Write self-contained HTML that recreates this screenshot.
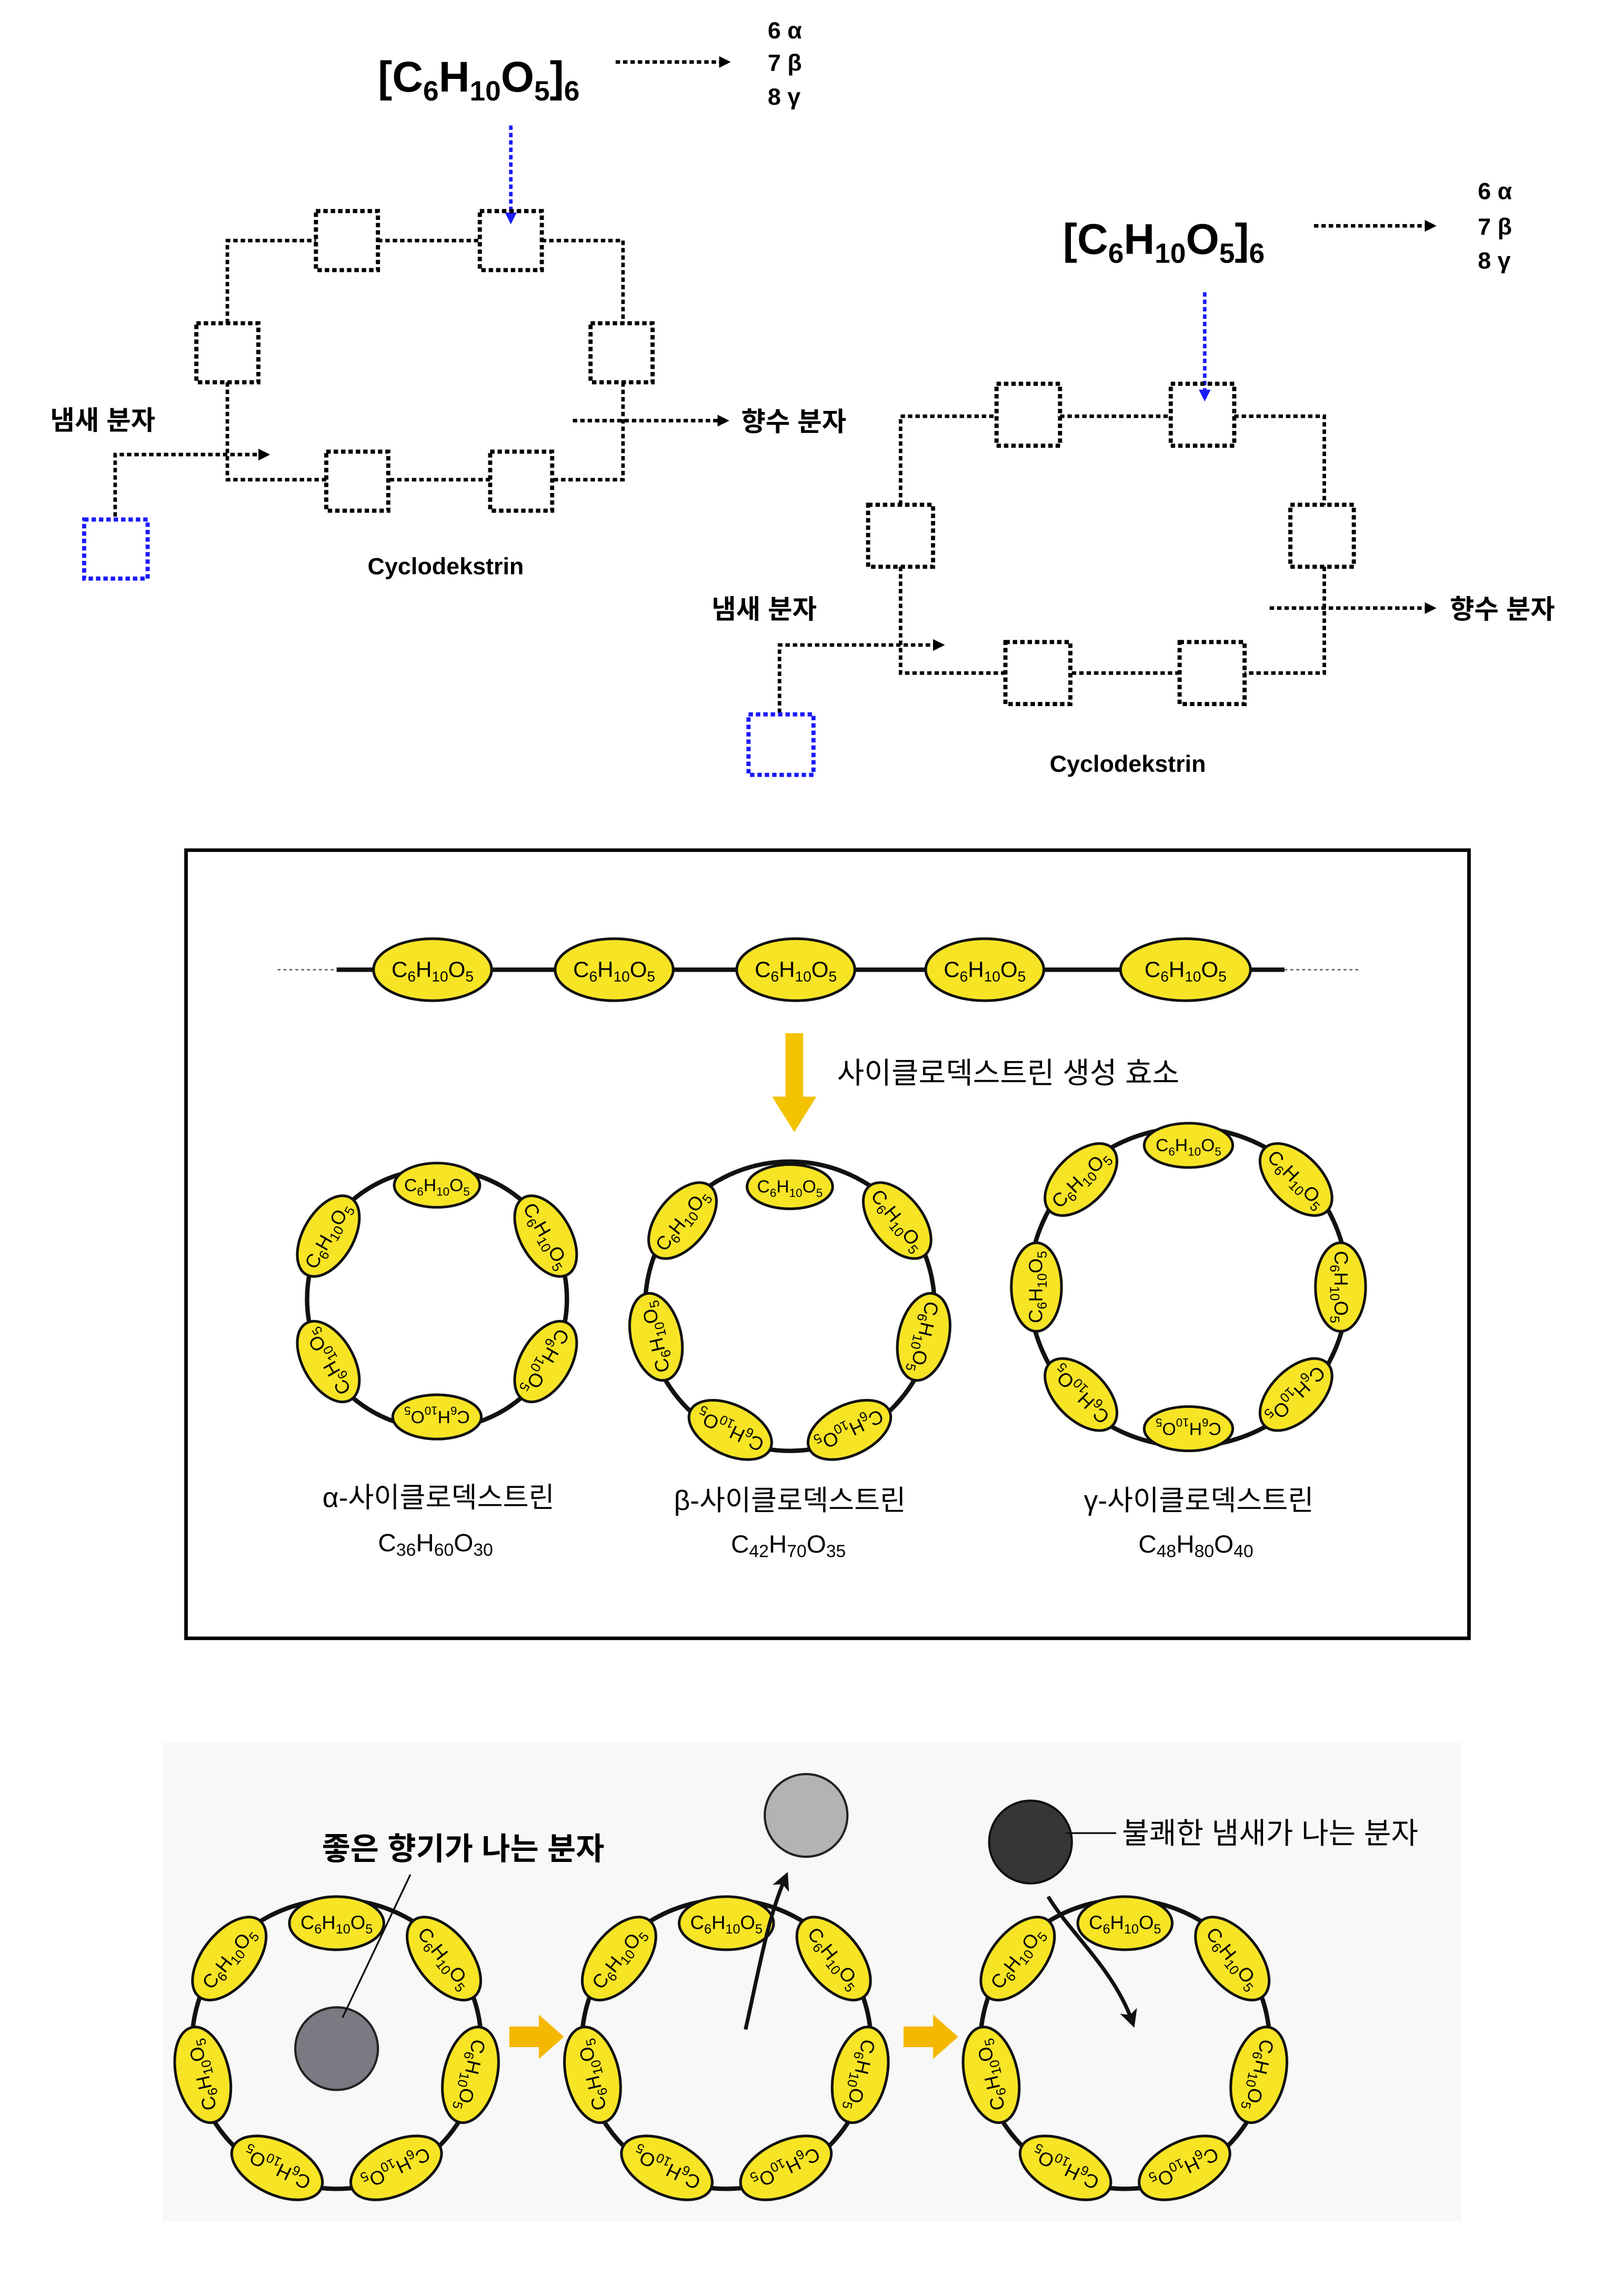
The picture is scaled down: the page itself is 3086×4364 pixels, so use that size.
<!DOCTYPE html>
<html><head><meta charset="utf-8"><style>
html,body{margin:0;padding:0;background:#fff}
svg{display:block}
text{font-family:"Liberation Sans","Noto Sans CJK KR",sans-serif}
.d{fill:none;stroke:#000;stroke-width:2.4;stroke-dasharray:3 2}
.bx{fill:none;stroke:#000;stroke-width:2.8;stroke-dasharray:3 2}
.bb{fill:none;stroke:#1a1aff;stroke-width:2.8;stroke-dasharray:3 2}
.y ellipse{fill:#f7e425;stroke:#111;stroke-width:1.8}
.y text{font-size:14px;text-anchor:middle}
.ring{fill:none;stroke:#111;stroke-width:3}
.b{font-weight:bold}
</style></head><body>
<svg width="3086" height="4364" viewBox="0 0 1100 1555.6" preserveAspectRatio="none" xmlns="http://www.w3.org/2000/svg">
<defs>
<marker id="ah" markerWidth="8" markerHeight="8" refX="6" refY="4" orient="auto" markerUnits="userSpaceOnUse"><path d="M0,0 L8,4 L0,8 z" fill="#000"/></marker>
<marker id="ab" markerWidth="8" markerHeight="8" refX="6" refY="4" orient="auto" markerUnits="userSpaceOnUse"><path d="M0,0 L8,4 L0,8 z" fill="#1a1aff"/></marker>
<marker id="ak" markerWidth="12" markerHeight="12" refX="8" refY="6" orient="auto" markerUnits="userSpaceOnUse"><path d="M0,0 L12,6 L0,12 L3,6 z" fill="#111"/></marker>
</defs>

<!-- Diagram 1 -->
<text x="256" y="62" font-size="29" class="b">[C<tspan dy="6" font-size="19">6</tspan><tspan dy="-6">H</tspan><tspan dy="6" font-size="19">10</tspan><tspan dy="-6">O</tspan><tspan dy="6" font-size="19">5</tspan><tspan dy="-6">]</tspan><tspan dy="6" font-size="19">6</tspan></text>
<line x1="417" y1="42" x2="493" y2="42" class="d" marker-end="url(#ah)"/>
<text x="520" y="26" font-size="16" class="b">6 α</text>
<text x="520" y="48" font-size="16" class="b">7 β</text>
<text x="520" y="71" font-size="16" class="b">8 γ</text>
<line x1="346" y1="85" x2="346" y2="150" stroke="#1a1aff" stroke-width="2.4" stroke-dasharray="3 2" marker-end="url(#ab)"/>
<rect x="214" y="143" width="42" height="40" class="bx"/>
<rect x="325" y="143" width="42" height="40" class="bx"/>
<rect x="133" y="219" width="42" height="40" class="bx"/>
<rect x="400" y="219" width="42" height="40" class="bx"/>
<rect x="221" y="306" width="42" height="40" class="bx"/>
<rect x="332" y="306" width="42" height="40" class="bx"/>
<path class="d" d="M154,219 V163 H214 M256,163 H325 M367,163 H422 V219 M422,259 V325 H374 M332,325 H263 M221,325 H154 V259"/>
<text x="34" y="291" font-size="18" class="b">냄새 분자</text>
<path class="d" d="M78,350 V308 H181" marker-end="url(#ah)"/>
<rect x="57" y="352" width="43" height="40" class="bb"/>
<line x1="388" y1="285" x2="492" y2="285" class="d" marker-end="url(#ah)"/>
<text x="502" y="292" font-size="18" class="b">향수 분자</text>
<text x="249" y="389" font-size="16" class="b">Cyclodekstrin</text>

<!-- Diagram 2 -->
<text x="720" y="172" font-size="29" class="b">[C<tspan dy="6" font-size="19">6</tspan><tspan dy="-6">H</tspan><tspan dy="6" font-size="19">10</tspan><tspan dy="-6">O</tspan><tspan dy="6" font-size="19">5</tspan><tspan dy="-6">]</tspan><tspan dy="6" font-size="19">6</tspan></text>
<line x1="890" y1="153" x2="971" y2="153" class="d" marker-end="url(#ah)"/>
<text x="1001" y="135" font-size="16" class="b">6 α</text>
<text x="1001" y="159" font-size="16" class="b">7 β</text>
<text x="1001" y="182" font-size="16" class="b">8 γ</text>
<line x1="816" y1="198" x2="816" y2="270" stroke="#1a1aff" stroke-width="2.4" stroke-dasharray="3 2" marker-end="url(#ab)"/>
<rect x="675" y="260" width="43" height="42" class="bx"/>
<rect x="793" y="260" width="43" height="42" class="bx"/>
<rect x="588" y="342" width="44" height="42" class="bx"/>
<rect x="874" y="342" width="43" height="42" class="bx"/>
<rect x="681" y="435" width="44" height="42" class="bx"/>
<rect x="799" y="435" width="44" height="42" class="bx"/>
<path class="d" d="M610,342 V282 H675 M718,282 H793 M836,282 H897 V342 M897,384 V456 H843 M799,456 H725 M681,456 H610 V384"/>
<text x="482" y="419" font-size="18" class="b">냄새 분자</text>
<path class="d" d="M528,483 V437 H638" marker-end="url(#ah)"/>
<rect x="507" y="484" width="44" height="41" class="bb"/>
<line x1="860" y1="412" x2="971" y2="412" class="d" marker-end="url(#ah)"/>
<text x="982" y="419" font-size="18" class="b">향수 분자</text>
<text x="711" y="523" font-size="16" class="b">Cyclodekstrin</text>

<!-- Middle box -->
<rect x="126" y="576" width="869" height="534" fill="#fff" stroke="#000" stroke-width="2.4"/>
<line x1="188" y1="657" x2="228" y2="657" stroke="#666" stroke-width="1" stroke-dasharray="2 2"/>
<line x1="870" y1="657" x2="920" y2="657" stroke="#666" stroke-width="1" stroke-dasharray="2 2"/>
<line x1="228" y1="657" x2="870" y2="657" stroke="#111" stroke-width="3"/>
<g class="y">
<g transform="translate(293,657)"><ellipse rx="40" ry="21"/><text y="5" style="font-size:15px">C<tspan dy="3" font-size="10">6</tspan><tspan dy="-3">H</tspan><tspan dy="3" font-size="10">10</tspan><tspan dy="-3">O</tspan><tspan dy="3" font-size="10">5</tspan></text></g>
<g transform="translate(416,657)"><ellipse rx="40" ry="21"/><text y="5" style="font-size:15px">C<tspan dy="3" font-size="10">6</tspan><tspan dy="-3">H</tspan><tspan dy="3" font-size="10">10</tspan><tspan dy="-3">O</tspan><tspan dy="3" font-size="10">5</tspan></text></g>
<g transform="translate(539,657)"><ellipse rx="40" ry="21"/><text y="5" style="font-size:15px">C<tspan dy="3" font-size="10">6</tspan><tspan dy="-3">H</tspan><tspan dy="3" font-size="10">10</tspan><tspan dy="-3">O</tspan><tspan dy="3" font-size="10">5</tspan></text></g>
<g transform="translate(667,657)"><ellipse rx="40" ry="21"/><text y="5" style="font-size:15px">C<tspan dy="3" font-size="10">6</tspan><tspan dy="-3">H</tspan><tspan dy="3" font-size="10">10</tspan><tspan dy="-3">O</tspan><tspan dy="3" font-size="10">5</tspan></text></g>
<g transform="translate(803,657)"><ellipse rx="44" ry="21"/><text y="5" style="font-size:15px">C<tspan dy="3" font-size="10">6</tspan><tspan dy="-3">H</tspan><tspan dy="3" font-size="10">10</tspan><tspan dy="-3">O</tspan><tspan dy="3" font-size="10">5</tspan></text></g>
</g>
<path d="M532,700 H544 V743 H553 L538,767 L523,743 H532 Z" fill="#f3c300"/>
<text x="567" y="734" font-size="20">사이클로덱스트린 생성 효소</text>

<!-- alpha -->
<circle cx="296" cy="880" r="88" class="ring"/>
<g class="y">
<g transform="translate(296,880) rotate(0) translate(0,-77)"><ellipse rx="29" ry="15"/><text y="4" style="font-size:12px">C<tspan dy="3" font-size="8">6</tspan><tspan dy="-3">H</tspan><tspan dy="3" font-size="8">10</tspan><tspan dy="-3">O</tspan><tspan dy="3" font-size="8">5</tspan></text></g>
<g transform="translate(296,880) rotate(60) translate(0,-85)"><ellipse rx="30" ry="17"/><text y="4" style="font-size:13px">C<tspan dy="3" font-size="9">6</tspan><tspan dy="-3">H</tspan><tspan dy="3" font-size="9">10</tspan><tspan dy="-3">O</tspan><tspan dy="3" font-size="9">5</tspan></text></g>
<g transform="translate(296,880) rotate(120) translate(0,-85)"><ellipse rx="30" ry="17"/><text y="4" style="font-size:13px">C<tspan dy="3" font-size="9">6</tspan><tspan dy="-3">H</tspan><tspan dy="3" font-size="9">10</tspan><tspan dy="-3">O</tspan><tspan dy="3" font-size="9">5</tspan></text></g>
<g transform="translate(296,880) rotate(180) translate(0,-80)"><ellipse rx="30" ry="15"/><text y="4" style="font-size:12px">C<tspan dy="3" font-size="8">6</tspan><tspan dy="-3">H</tspan><tspan dy="3" font-size="8">10</tspan><tspan dy="-3">O</tspan><tspan dy="3" font-size="8">5</tspan></text></g>
<g transform="translate(296,880) rotate(240) translate(0,-85)"><ellipse rx="30" ry="17"/><text y="4" style="font-size:13px">C<tspan dy="3" font-size="9">6</tspan><tspan dy="-3">H</tspan><tspan dy="3" font-size="9">10</tspan><tspan dy="-3">O</tspan><tspan dy="3" font-size="9">5</tspan></text></g>
<g transform="translate(296,880) rotate(300) translate(0,-85)"><ellipse rx="30" ry="17"/><text y="4" style="font-size:13px">C<tspan dy="3" font-size="9">6</tspan><tspan dy="-3">H</tspan><tspan dy="3" font-size="9">10</tspan><tspan dy="-3">O</tspan><tspan dy="3" font-size="9">5</tspan></text></g>
</g>
<!-- beta -->
<circle cx="535" cy="885" r="98" class="ring"/>
<g class="y">
<g transform="translate(535,885) rotate(0) translate(0,-81)"><ellipse rx="29" ry="15"/><text y="4" style="font-size:12px">C<tspan dy="3" font-size="8">6</tspan><tspan dy="-3">H</tspan><tspan dy="3" font-size="8">10</tspan><tspan dy="-3">O</tspan><tspan dy="3" font-size="8">5</tspan></text></g>
<g transform="translate(535,885) rotate(51.4) translate(0,-93)"><ellipse rx="30" ry="17"/><text y="4" style="font-size:13px">C<tspan dy="3" font-size="9">6</tspan><tspan dy="-3">H</tspan><tspan dy="3" font-size="9">10</tspan><tspan dy="-3">O</tspan><tspan dy="3" font-size="9">5</tspan></text></g>
<g transform="translate(535,885) rotate(102.9) translate(0,-93)"><ellipse rx="30" ry="17"/><text y="4" style="font-size:13px">C<tspan dy="3" font-size="9">6</tspan><tspan dy="-3">H</tspan><tspan dy="3" font-size="9">10</tspan><tspan dy="-3">O</tspan><tspan dy="3" font-size="9">5</tspan></text></g>
<g transform="translate(535,885) rotate(154.3) translate(0,-93)"><ellipse rx="30" ry="17"/><text y="4" style="font-size:13px">C<tspan dy="3" font-size="9">6</tspan><tspan dy="-3">H</tspan><tspan dy="3" font-size="9">10</tspan><tspan dy="-3">O</tspan><tspan dy="3" font-size="9">5</tspan></text></g>
<g transform="translate(535,885) rotate(205.7) translate(0,-93)"><ellipse rx="30" ry="17"/><text y="4" style="font-size:13px">C<tspan dy="3" font-size="9">6</tspan><tspan dy="-3">H</tspan><tspan dy="3" font-size="9">10</tspan><tspan dy="-3">O</tspan><tspan dy="3" font-size="9">5</tspan></text></g>
<g transform="translate(535,885) rotate(257.1) translate(0,-93)"><ellipse rx="30" ry="17"/><text y="4" style="font-size:13px">C<tspan dy="3" font-size="9">6</tspan><tspan dy="-3">H</tspan><tspan dy="3" font-size="9">10</tspan><tspan dy="-3">O</tspan><tspan dy="3" font-size="9">5</tspan></text></g>
<g transform="translate(535,885) rotate(308.6) translate(0,-93)"><ellipse rx="30" ry="17"/><text y="4" style="font-size:13px">C<tspan dy="3" font-size="9">6</tspan><tspan dy="-3">H</tspan><tspan dy="3" font-size="9">10</tspan><tspan dy="-3">O</tspan><tspan dy="3" font-size="9">5</tspan></text></g>
</g>
<!-- gamma -->
<circle cx="805" cy="872" r="108" class="ring"/>
<g class="y">
<g transform="translate(805,872) rotate(0) translate(0,-96)"><ellipse rx="30" ry="15"/><text y="4" style="font-size:12px">C<tspan dy="3" font-size="8">6</tspan><tspan dy="-3">H</tspan><tspan dy="3" font-size="8">10</tspan><tspan dy="-3">O</tspan><tspan dy="3" font-size="8">5</tspan></text></g>
<g transform="translate(805,872) rotate(45) translate(0,-103)"><ellipse rx="30" ry="17"/><text y="4" style="font-size:13px">C<tspan dy="3" font-size="9">6</tspan><tspan dy="-3">H</tspan><tspan dy="3" font-size="9">10</tspan><tspan dy="-3">O</tspan><tspan dy="3" font-size="9">5</tspan></text></g>
<g transform="translate(805,872) rotate(90) translate(0,-103)"><ellipse rx="30" ry="17"/><text y="4" style="font-size:13px">C<tspan dy="3" font-size="9">6</tspan><tspan dy="-3">H</tspan><tspan dy="3" font-size="9">10</tspan><tspan dy="-3">O</tspan><tspan dy="3" font-size="9">5</tspan></text></g>
<g transform="translate(805,872) rotate(135) translate(0,-103)"><ellipse rx="30" ry="17"/><text y="4" style="font-size:13px">C<tspan dy="3" font-size="9">6</tspan><tspan dy="-3">H</tspan><tspan dy="3" font-size="9">10</tspan><tspan dy="-3">O</tspan><tspan dy="3" font-size="9">5</tspan></text></g>
<g transform="translate(805,872) rotate(180) translate(0,-96)"><ellipse rx="30" ry="15"/><text y="4" style="font-size:12px">C<tspan dy="3" font-size="8">6</tspan><tspan dy="-3">H</tspan><tspan dy="3" font-size="8">10</tspan><tspan dy="-3">O</tspan><tspan dy="3" font-size="8">5</tspan></text></g>
<g transform="translate(805,872) rotate(225) translate(0,-103)"><ellipse rx="30" ry="17"/><text y="4" style="font-size:13px">C<tspan dy="3" font-size="9">6</tspan><tspan dy="-3">H</tspan><tspan dy="3" font-size="9">10</tspan><tspan dy="-3">O</tspan><tspan dy="3" font-size="9">5</tspan></text></g>
<g transform="translate(805,872) rotate(270) translate(0,-103)"><ellipse rx="30" ry="17"/><text y="4" style="font-size:13px">C<tspan dy="3" font-size="9">6</tspan><tspan dy="-3">H</tspan><tspan dy="3" font-size="9">10</tspan><tspan dy="-3">O</tspan><tspan dy="3" font-size="9">5</tspan></text></g>
<g transform="translate(805,872) rotate(315) translate(0,-103)"><ellipse rx="30" ry="17"/><text y="4" style="font-size:13px">C<tspan dy="3" font-size="9">6</tspan><tspan dy="-3">H</tspan><tspan dy="3" font-size="9">10</tspan><tspan dy="-3">O</tspan><tspan dy="3" font-size="9">5</tspan></text></g>
</g>
<g font-size="19" text-anchor="middle">
<text x="297" y="1021">α-사이클로덱스트린</text>
<text x="535" y="1023">β-사이클로덱스트린</text>
<text x="812" y="1023">γ-사이클로덱스트린</text>
</g>
<g font-size="17" text-anchor="middle">
<text x="295" y="1051">C<tspan dy="3" font-size="12">36</tspan><tspan dy="-3">H</tspan><tspan dy="3" font-size="12">60</tspan><tspan dy="-3">O</tspan><tspan dy="3" font-size="12">30</tspan></text>
<text x="534" y="1052">C<tspan dy="3" font-size="12">42</tspan><tspan dy="-3">H</tspan><tspan dy="3" font-size="12">70</tspan><tspan dy="-3">O</tspan><tspan dy="3" font-size="12">35</tspan></text>
<text x="810" y="1052">C<tspan dy="3" font-size="12">48</tspan><tspan dy="-3">H</tspan><tspan dy="3" font-size="12">80</tspan><tspan dy="-3">O</tspan><tspan dy="3" font-size="12">40</tspan></text>
</g>

<!-- Bottom section -->
<rect x="110" y="1180" width="880" height="325" fill="#f8f8f8"/>
<!-- ring 1 -->
<circle cx="228" cy="1385" r="98" class="ring"/>
<circle cx="228" cy="1388" r="28" fill="#7b7a82" stroke="#222" stroke-width="1.5"/>
<line x1="278" y1="1270" x2="232" y2="1367" stroke="#111" stroke-width="1.2"/>
<text x="218" y="1260" font-size="21" class="b">좋은 향기가 나는 분자</text>
<!-- ring 2 -->
<circle cx="492" cy="1385" r="98" class="ring"/>
<circle cx="546" cy="1230" r="28" fill="#b3b3b6" stroke="#222" stroke-width="1.5"/>
<path d="M505,1375 C515,1330 520,1300 532,1272" fill="none" stroke="#111" stroke-width="2.5" marker-end="url(#ak)"/>
<!-- ring 3 -->
<circle cx="762" cy="1385" r="98" class="ring"/>
<circle cx="698" cy="1248" r="28" fill="#363636" stroke="#111" stroke-width="1.5"/>
<line x1="722" y1="1242" x2="756" y2="1242" stroke="#111" stroke-width="1.2"/>
<text x="760" y="1249" font-size="20">불쾌한 냄새가 나는 분자</text>
<path d="M710,1285 C725,1310 755,1335 767,1370" fill="none" stroke="#111" stroke-width="2.5" marker-end="url(#ak)"/>
<path d="M345,1373 H365 V1365 L382,1380 L365,1395 V1387 H345 Z" fill="#f5b800"/>
<path d="M612,1373 H632 V1365 L649,1380 L632,1395 V1387 H612 Z" fill="#f5b800"/>
<g class="y">
<g transform="translate(228,1385) rotate(0) translate(0,-82)"><ellipse rx="32" ry="18"/><text y="4" style="font-size:13px">C<tspan dy="3" font-size="9">6</tspan><tspan dy="-3">H</tspan><tspan dy="3" font-size="9">10</tspan><tspan dy="-3">O</tspan><tspan dy="3" font-size="9">5</tspan></text></g>
<g transform="translate(228,1385) rotate(51.4) translate(0,-93)"><ellipse rx="33" ry="18"/><text y="4" style="font-size:13px">C<tspan dy="3" font-size="9">6</tspan><tspan dy="-3">H</tspan><tspan dy="3" font-size="9">10</tspan><tspan dy="-3">O</tspan><tspan dy="3" font-size="9">5</tspan></text></g>
<g transform="translate(228,1385) rotate(102.9) translate(0,-93)"><ellipse rx="33" ry="18"/><text y="4" style="font-size:13px">C<tspan dy="3" font-size="9">6</tspan><tspan dy="-3">H</tspan><tspan dy="3" font-size="9">10</tspan><tspan dy="-3">O</tspan><tspan dy="3" font-size="9">5</tspan></text></g>
<g transform="translate(228,1385) rotate(154.3) translate(0,-93)"><ellipse rx="33" ry="18"/><text y="4" style="font-size:13px">C<tspan dy="3" font-size="9">6</tspan><tspan dy="-3">H</tspan><tspan dy="3" font-size="9">10</tspan><tspan dy="-3">O</tspan><tspan dy="3" font-size="9">5</tspan></text></g>
<g transform="translate(228,1385) rotate(205.7) translate(0,-93)"><ellipse rx="33" ry="18"/><text y="4" style="font-size:13px">C<tspan dy="3" font-size="9">6</tspan><tspan dy="-3">H</tspan><tspan dy="3" font-size="9">10</tspan><tspan dy="-3">O</tspan><tspan dy="3" font-size="9">5</tspan></text></g>
<g transform="translate(228,1385) rotate(257.1) translate(0,-93)"><ellipse rx="33" ry="18"/><text y="4" style="font-size:13px">C<tspan dy="3" font-size="9">6</tspan><tspan dy="-3">H</tspan><tspan dy="3" font-size="9">10</tspan><tspan dy="-3">O</tspan><tspan dy="3" font-size="9">5</tspan></text></g>
<g transform="translate(228,1385) rotate(308.6) translate(0,-93)"><ellipse rx="33" ry="18"/><text y="4" style="font-size:13px">C<tspan dy="3" font-size="9">6</tspan><tspan dy="-3">H</tspan><tspan dy="3" font-size="9">10</tspan><tspan dy="-3">O</tspan><tspan dy="3" font-size="9">5</tspan></text></g>

<g transform="translate(492,1385) rotate(0) translate(0,-82)"><ellipse rx="32" ry="18"/><text y="4" style="font-size:13px">C<tspan dy="3" font-size="9">6</tspan><tspan dy="-3">H</tspan><tspan dy="3" font-size="9">10</tspan><tspan dy="-3">O</tspan><tspan dy="3" font-size="9">5</tspan></text></g>
<g transform="translate(492,1385) rotate(51.4) translate(0,-93)"><ellipse rx="33" ry="18"/><text y="4" style="font-size:13px">C<tspan dy="3" font-size="9">6</tspan><tspan dy="-3">H</tspan><tspan dy="3" font-size="9">10</tspan><tspan dy="-3">O</tspan><tspan dy="3" font-size="9">5</tspan></text></g>
<g transform="translate(492,1385) rotate(102.9) translate(0,-93)"><ellipse rx="33" ry="18"/><text y="4" style="font-size:13px">C<tspan dy="3" font-size="9">6</tspan><tspan dy="-3">H</tspan><tspan dy="3" font-size="9">10</tspan><tspan dy="-3">O</tspan><tspan dy="3" font-size="9">5</tspan></text></g>
<g transform="translate(492,1385) rotate(154.3) translate(0,-93)"><ellipse rx="33" ry="18"/><text y="4" style="font-size:13px">C<tspan dy="3" font-size="9">6</tspan><tspan dy="-3">H</tspan><tspan dy="3" font-size="9">10</tspan><tspan dy="-3">O</tspan><tspan dy="3" font-size="9">5</tspan></text></g>
<g transform="translate(492,1385) rotate(205.7) translate(0,-93)"><ellipse rx="33" ry="18"/><text y="4" style="font-size:13px">C<tspan dy="3" font-size="9">6</tspan><tspan dy="-3">H</tspan><tspan dy="3" font-size="9">10</tspan><tspan dy="-3">O</tspan><tspan dy="3" font-size="9">5</tspan></text></g>
<g transform="translate(492,1385) rotate(257.1) translate(0,-93)"><ellipse rx="33" ry="18"/><text y="4" style="font-size:13px">C<tspan dy="3" font-size="9">6</tspan><tspan dy="-3">H</tspan><tspan dy="3" font-size="9">10</tspan><tspan dy="-3">O</tspan><tspan dy="3" font-size="9">5</tspan></text></g>
<g transform="translate(492,1385) rotate(308.6) translate(0,-93)"><ellipse rx="33" ry="18"/><text y="4" style="font-size:13px">C<tspan dy="3" font-size="9">6</tspan><tspan dy="-3">H</tspan><tspan dy="3" font-size="9">10</tspan><tspan dy="-3">O</tspan><tspan dy="3" font-size="9">5</tspan></text></g>

<g transform="translate(762,1385) rotate(0) translate(0,-82)"><ellipse rx="32" ry="18"/><text y="4" style="font-size:13px">C<tspan dy="3" font-size="9">6</tspan><tspan dy="-3">H</tspan><tspan dy="3" font-size="9">10</tspan><tspan dy="-3">O</tspan><tspan dy="3" font-size="9">5</tspan></text></g>
<g transform="translate(762,1385) rotate(51.4) translate(0,-93)"><ellipse rx="33" ry="18"/><text y="4" style="font-size:13px">C<tspan dy="3" font-size="9">6</tspan><tspan dy="-3">H</tspan><tspan dy="3" font-size="9">10</tspan><tspan dy="-3">O</tspan><tspan dy="3" font-size="9">5</tspan></text></g>
<g transform="translate(762,1385) rotate(102.9) translate(0,-93)"><ellipse rx="33" ry="18"/><text y="4" style="font-size:13px">C<tspan dy="3" font-size="9">6</tspan><tspan dy="-3">H</tspan><tspan dy="3" font-size="9">10</tspan><tspan dy="-3">O</tspan><tspan dy="3" font-size="9">5</tspan></text></g>
<g transform="translate(762,1385) rotate(154.3) translate(0,-93)"><ellipse rx="33" ry="18"/><text y="4" style="font-size:13px">C<tspan dy="3" font-size="9">6</tspan><tspan dy="-3">H</tspan><tspan dy="3" font-size="9">10</tspan><tspan dy="-3">O</tspan><tspan dy="3" font-size="9">5</tspan></text></g>
<g transform="translate(762,1385) rotate(205.7) translate(0,-93)"><ellipse rx="33" ry="18"/><text y="4" style="font-size:13px">C<tspan dy="3" font-size="9">6</tspan><tspan dy="-3">H</tspan><tspan dy="3" font-size="9">10</tspan><tspan dy="-3">O</tspan><tspan dy="3" font-size="9">5</tspan></text></g>
<g transform="translate(762,1385) rotate(257.1) translate(0,-93)"><ellipse rx="33" ry="18"/><text y="4" style="font-size:13px">C<tspan dy="3" font-size="9">6</tspan><tspan dy="-3">H</tspan><tspan dy="3" font-size="9">10</tspan><tspan dy="-3">O</tspan><tspan dy="3" font-size="9">5</tspan></text></g>
<g transform="translate(762,1385) rotate(308.6) translate(0,-93)"><ellipse rx="33" ry="18"/><text y="4" style="font-size:13px">C<tspan dy="3" font-size="9">6</tspan><tspan dy="-3">H</tspan><tspan dy="3" font-size="9">10</tspan><tspan dy="-3">O</tspan><tspan dy="3" font-size="9">5</tspan></text></g>
</g>
<path d="M505,1375 C515,1330 520,1300 532,1272" fill="none" stroke="#111" stroke-width="2.5" marker-end="url(#ak)"/>
<path d="M710,1285 C725,1310 755,1335 767,1370" fill="none" stroke="#111" stroke-width="2.5" marker-end="url(#ak)"/>
</svg>
</body></html>
